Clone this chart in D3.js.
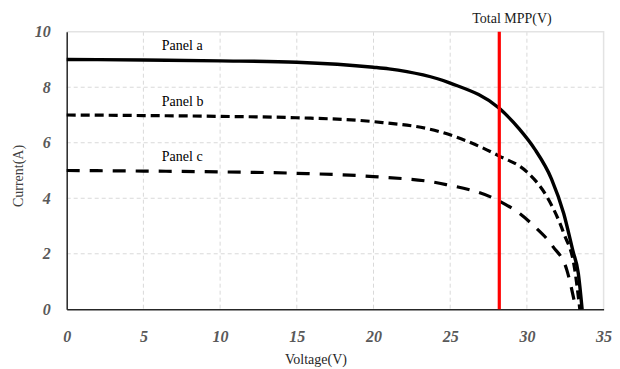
<!DOCTYPE html>
<html>
<head>
<meta charset="utf-8">
<script src="https://cdn.jsdelivr.net/npm/d3@7"></script>
<style>
  body { margin: 0; background: #fff; }
  svg { display: block; font-family: "Liberation Serif", "DejaVu Serif", serif; }
</style>
</head>
<body>
<script>
// I-V curves
var voltA = [0, 5, 10, 15, 20, 21, 25, 28.2, 29.5, 30.5, 31.6, 32.4, 33.0, 33.35, 33.6];
var currA = [9.0, 8.98, 8.95, 8.9, 8.72, 8.66, 8.15, 7.24, 6.5, 5.78, 4.7, 3.45, 2.1, 1.3, 0];

var voltB = [0, 5, 10, 15, 20, 24.3, 28.2, 30, 31.3, 32.4, 33.1, 33.45];
var currB = [7.0, 6.98, 6.95, 6.9, 6.76, 6.4, 5.52, 4.95, 4.06, 2.74, 1.5, 0];

var voltC = [0, 5, 10, 15, 20, 24.3, 28.2, 29.55, 30.5, 31.7, 32.6, 33.2];
var currC = [5.0, 4.98, 4.95, 4.9, 4.78, 4.54, 3.9, 3.44, 2.98, 2.26, 1.42, 0];

var panelNames = ['Panel a', 'Panel b', 'Panel c'];
var xTicks = [0, 5, 10, 15, 20, 25, 30, 35];
var yTicks = [0, 2, 4, 6, 8, 10];
var mppVoltage = 28.2;

var W = 620, H = 369,
	margin = { top: 31.7, right: 16.4, bottom: 59.7, left: 66.7 },
	w = W - margin.left - margin.right,
	h = H - margin.top - margin.bottom;

var svg = d3.select('body').append('svg')
	.attr('width', W)
	.attr('height', H);

var g = svg.append('g')
	.attr('transform', 'translate(' + margin.left + ',' + margin.top + ')');

var x = d3.scaleLinear().domain([0, 35]).range([0, w]);
var y = d3.scaleLinear().domain([0, 10]).range([h, 0]);

// grid
g.append('g').selectAll('line')
	.data(xTicks.slice(1, -1))
	.enter().append('line')
		.attr('x1', function(d) { return x(d); })
		.attr('x2', function(d) { return x(d); })
		.attr('y1', 0).attr('y2', h)
		.attr('stroke', '#d9d9d9')
		.attr('stroke-dasharray', '4,3');

g.append('g').selectAll('line')
	.data(yTicks.slice(1, -1))
	.enter().append('line')
		.attr('y1', function(d) { return y(d); })
		.attr('y2', function(d) { return y(d); })
		.attr('x1', 0).attr('x2', w)
		.attr('stroke', '#d9d9d9')
		.attr('stroke-dasharray', '4,3');

// light frame top / right
g.append('path')
	.attr('d', 'M0,0H' + w + 'V' + h)
	.attr('fill', 'none')
	.attr('stroke', '#e3e3e3')
	.attr('stroke-width', 1.5);

// axes
var xAxis = g.append('g')
	.attr('transform', 'translate(0,' + h + ')')
	.call(d3.axisBottom(x).tickValues(xTicks).tickSize(0).tickPadding(21));
var yAxis = g.append('g')
	.call(d3.axisLeft(y).tickValues(yTicks).tickSize(0).tickPadding(16));

[xAxis, yAxis].forEach(function(a) {
	a.select('.domain').attr('stroke', '#262626').attr('stroke-width', 1.5);
	a.selectAll('text')
		.attr('font-family', '"Liberation Serif", serif')
		.attr('font-size', 16)
		.attr('font-weight', 'bold')
		.attr('font-style', 'italic')
		.attr('fill', '#595959');
});

// curves
var line = d3.line()
	.x(function(d) { return x(d[0]); })
	.y(function(d) { return y(d[1]); })
	.curve(d3.curveMonotoneX);

var series = [
	{ v: voltA, c: currA, dash: null, width: 3.4 },
	{ v: voltB, c: currB, dash: '9,5', width: 3.2 },
	{ v: voltC, c: currC, dash: '13,10', width: 3.2 }
];

series.forEach(function(s, i) {
	var pts = d3.zip(s.v, s.c);
	g.append('path')
		.datum(pts)
		.attr('d', line)
		.attr('fill', 'none')
		.attr('stroke', '#000')
		.attr('stroke-width', s.width)
		.attr('stroke-dasharray', s.dash);

	g.append('text')
		.attr('x', x(6.2))
		.attr('y', y(s.c[0] + 0.34))
		.attr('font-size', 14)
		.attr('fill', '#000')
		.text(panelNames[i]);
});

// MPP marker
g.append('line')
	.attr('x1', x(mppVoltage)).attr('x2', x(mppVoltage))
	.attr('y1', y(10)).attr('y2', y(0))
	.attr('stroke', '#ff0000')
	.attr('stroke-width', 3.2);

svg.append('text')
	.attr('x', 512)
	.attr('y', 22.5)
	.attr('text-anchor', 'middle')
	.attr('font-size', 14)
	.attr('fill', '#1a1a1a')
	.text('Total MPP(V)');

// axis titles
svg.append('text')
	.attr('x', 316)
	.attr('y', 364)
	.attr('text-anchor', 'middle')
	.attr('font-size', 14)
	.attr('fill', '#262626')
	.text('Voltage(V)');

svg.append('text')
	.attr('transform', 'translate(23,176)rotate(-90)')
	.attr('text-anchor', 'middle')
	.attr('font-size', 14)
	.attr('fill', '#404040')
	.text('Current(A)');
</script>
</body>
</html>
